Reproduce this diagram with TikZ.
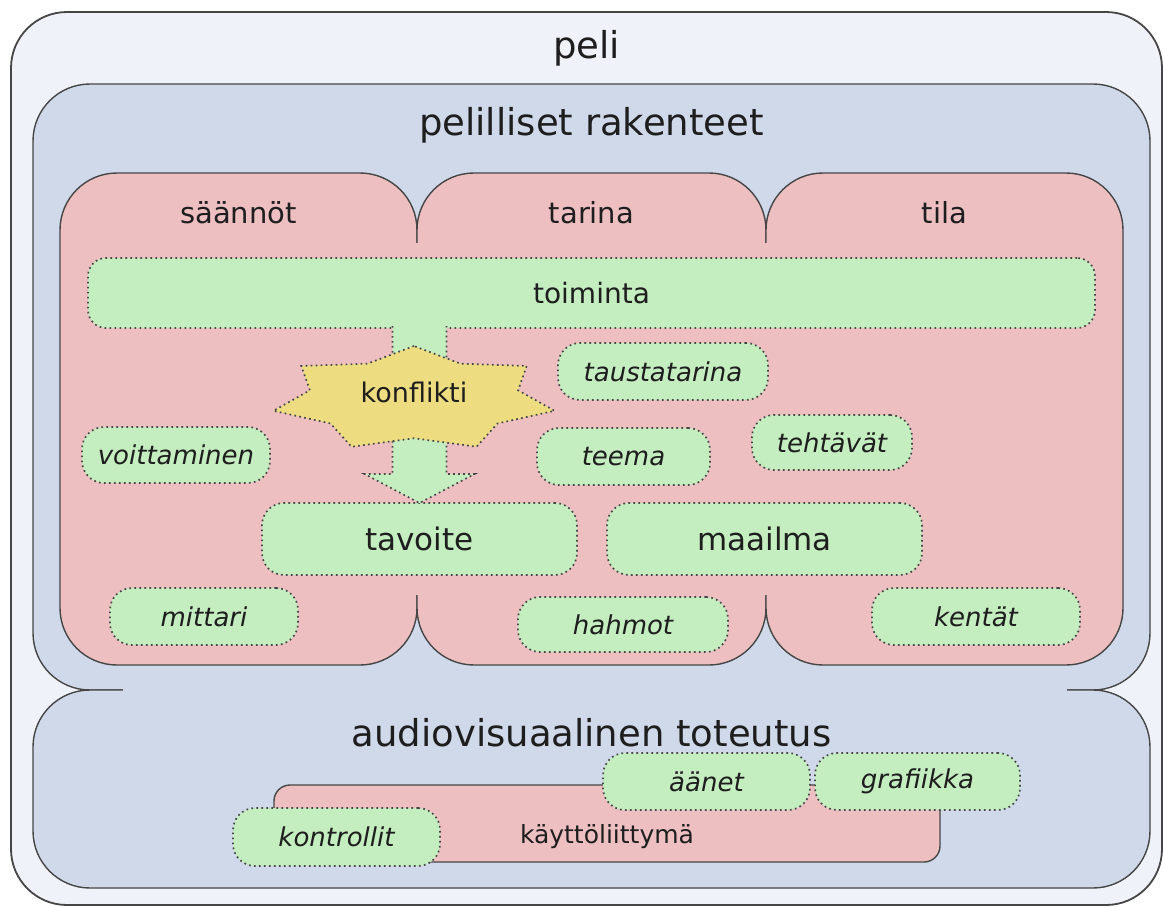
\documentclass[tikz,border=0pt]{standalone}
\usepackage{fontspec}
\setmainfont{DejaVu Sans}
\usepackage{tikz}
\usetikzlibrary{positioning}
\usetikzlibrary{shapes.geometric}

\definecolor{pelibg}{RGB}{239,242,248}
\definecolor{sinibg}{RGB}{207,217,234}
\definecolor{punabg}{RGB}{237,191,193}
\definecolor{vihrbg}{RGB}{196,237,192}
\definecolor{keltbg}{RGB}{238,221,128}
\definecolor{viiva}{RGB}{70,70,70}
\definecolor{teksti}{RGB}{30,30,30}

\begin{document}
\begin{tikzpicture}[x=1pt,y=-1pt,
    every node/.style={inner sep=0pt,outer sep=0pt,text=teksti},
    ulko/.style={draw=viiva,line width=1.8pt,fill=pelibg,rounded corners=56pt},
    sini/.style={draw=viiva,line width=1.4pt,fill=sinibg,rounded corners=57pt},
    puna/.style={draw=viiva,line width=1.4pt,fill=punabg,rounded corners=57pt},
    pieni/.style={draw=viiva,line width=1.4pt,fill=punabg,rounded corners=16pt},
    pisteet/.style={draw=viiva,line width=1.7pt,dash pattern=on 1.7pt off 3.3pt},
    vihr/.style={pisteet,fill=vihrbg,rounded corners=22pt},
    kohta/.style={vihr,font=\itshape\fontsize{26}{29}\selectfont},
    iso/.style={font=\fontsize{37}{40}\selectfont},
    otsikko/.style={font=\fontsize{29}{32}\selectfont}]

  \useasboundingbox (0,0) rectangle (1163,906);

  % laatikot
  \node[ulko,minimum width=1151pt,minimum height=893pt] (peli) at (586.5,458.5) {};
  \node[sini,minimum width=1117pt,minimum height=606pt] (rakenteet) at (591.5,387) {};
  \node[sini,minimum width=1117pt,minimum height=198pt] (toteutus) at (591.5,789) {};
  \fill[sinibg] (123,683) rectangle (1067,697);

  \node[puna,minimum width=357pt,minimum height=492pt] (saannot) at (238.5,419) {};
  \node[puna,minimum width=349pt,minimum height=492pt] (tarina) at (591.5,419) {};
  \node[puna,minimum width=357pt,minimum height=492pt] (tila) at (944.5,419) {};
  \fill[punabg] (61,243) rectangle (1122,595);

  \node[iso] at ([yshift=-36pt]peli.north) {peli};
  \node[iso] at ([yshift=-41pt]rakenteet.north) {pelilliset rakenteet};
  \node[iso] at ([yshift=-43pt]toteutus.north) {audiovisuaalinen toteutus};
  \node[otsikko] at ([yshift=-40pt]saannot.north) {säännöt};
  \node[otsikko] at ([yshift=-40pt]tarina.north) {tarina};
  \node[otsikko] at ([yshift=-40pt]tila.north) {tila};

  \node[vihr,font=\fontsize{28}{31}\selectfont,rounded corners=18pt,minimum width=1007pt,minimum height=70pt] (toiminta) at (591.5,293) {toiminta};
  \node[vihr,font=\fontsize{31}{34}\selectfont,minimum width=315pt,minimum height=72pt] (tavoite) at (419.5,539) {tavoite};
  \node[vihr,font=\fontsize{31}{34}\selectfont,minimum width=315pt,minimum height=72pt] (maailma) at (764.5,539) {maailma};

  % nuoli toiminnasta tavoitteeseen
  \path (tavoite.north |- toiminta.south) coordinate (nuolialku);
  \draw[pisteet,fill=vihrbg] ([xshift=-27pt,yshift=2pt]nuolialku)
      -- ([xshift=-27pt,yshift=29pt]tavoite.north)
      -- ([xshift=-55pt,yshift=29pt]tavoite.north) -- (tavoite.north)
      -- ([xshift=55pt,yshift=29pt]tavoite.north)
      -- ([xshift=27pt,yshift=29pt]tavoite.north)
      -- ([xshift=27pt,yshift=2pt]nuolialku);

  \node[star,star points=7,star point ratio=1.35,minimum size=106pt,
        xscale=2.72,transform shape,pisteet,fill=keltbg] (konflikti) at (414,399) {};
  \node[font=\fontsize{27}{30}\selectfont] at ([yshift=7pt]konflikti.center) {konflikti};

  \node[kohta,minimum width=210pt,minimum height=57pt] (taustatarina) at (663,371.5) {taustatarina};
  \node[kohta,minimum width=188pt,minimum height=56pt] (voittaminen) at (176,455) {voittaminen};
  \node[kohta,minimum width=173pt,minimum height=57pt] (teema) at (623.5,456.5) {teema};
  \node[kohta,minimum width=160pt,minimum height=55pt] (tehtavat) at (832,442.5) {tehtävät};
  \node[kohta,minimum width=188pt,minimum height=57pt] (mittari) at (204,616.5) {mittari};
  \node[kohta,minimum width=210pt,minimum height=55pt] (hahmot) at (623,624.5) {hahmot};
  \node[kohta,minimum width=208pt,minimum height=57pt] (kentat) at (976,616.5) {kentät};

  % kayttoliittyma
  \node[pieni,minimum width=666pt,minimum height=77pt] (kayttoliittyma) at (607,823.5) {};
  \node[font=\fontsize{25}{28}\selectfont] at ([yshift=-13pt]kayttoliittyma.center) {käyttöliittymä};
  \node[kohta,minimum width=207pt,minimum height=57pt] (aanet) at (706.5,781.5) {äänet};
  \node[kohta,minimum width=205pt,minimum height=57pt] (grafiikka) at (917.5,781.5) {grafiikka};
  \node[kohta,minimum width=207pt,minimum height=58pt] (kontrollit) at (336.5,837) {kontrollit};

\end{tikzpicture}
\end{document}
